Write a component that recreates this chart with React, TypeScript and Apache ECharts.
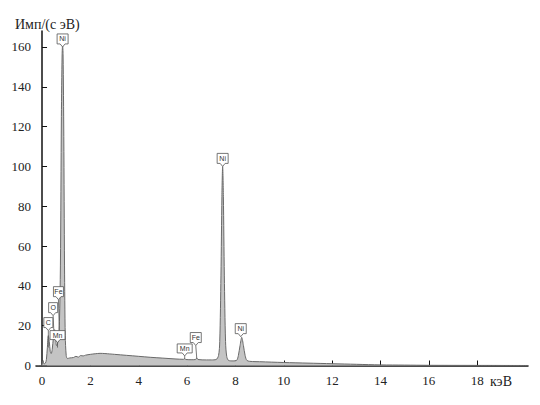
import React, { useEffect, useRef } from "react";
import * as echarts from "echarts";

// Spectrum (energy in keV, counts per s·eV)
const energy = [
  -0.25, -0.05, 0.0, 0.04, 0.08, 0.14, 0.18, 0.22, 0.26, 0.3, 0.34, 0.38, 0.42, 0.47, 0.52, 0.56, 0.6,
  0.64, 0.68, 0.72, 0.76, 0.8, 0.83, 0.85, 0.87, 0.9, 0.93, 0.96, 1.0, 1.05, 1.15, 1.3, 1.4, 1.5, 1.6,
  1.7, 1.8, 2.0, 2.2, 2.4, 2.6, 2.8, 3.0, 3.5, 4.0, 4.5, 5.0, 5.5, 5.85, 5.9, 5.95, 6.2, 6.35, 6.4, 6.45,
  6.8, 7.0, 7.2, 7.3, 7.35, 7.4, 7.44, 7.47, 7.5, 7.54, 7.59, 7.64, 7.72, 7.9, 8.05, 8.12, 8.19, 8.26,
  8.33, 8.4, 8.48, 8.7, 9.0, 9.5, 10, 11, 12, 13, 14, 15, 16, 18, 20.1,
];
const counts = [
  0, 0, 0.5, 2.5, 0.8, 1.2, 3, 9, 15, 12, 7, 6, 8, 14, 18, 14, 10,
  11, 14, 22, 50, 125, 156, 161, 156, 115, 50, 15, 5, 3.5, 3.8, 4, 4.6, 4.2, 5,
  4.8, 5.2, 5.6, 5.9, 6.1, 6.0, 5.8, 5.6, 5.1, 4.6, 4.1, 3.7, 3.3, 3.1, 3.4, 3.0, 2.9, 3.0, 3.8, 3.0,
  2.8, 2.8, 3, 5, 12, 45, 85, 100, 85, 45, 12, 4.5, 2.5, 2.3, 2.6, 5, 10, 14,
  10, 5, 2.5, 2, 1.9, 1.7, 1.5, 1.2, 0.9, 0.6, 0.3, 0.2, 0.1, 0.05, 0,
];

const xTicks = [0, 2, 4, 6, 8, 10, 12, 14, 16, 18];
const yTicks = [0, 20, 40, 60, 80, 100, 120, 140, 160];

// Peak annotations
const peakNames = ["Ni", "Ni", "Ni", "Fe", "Mn", "C", "O", "Fe", "Mn"];
const peakEnergies = [0.85, 7.47, 8.26, 6.4, 5.9, 0.26, 0.5, 0.72, 0.64];
const peakValues = [160, 100, 14, 3.5, 3.3, 9, 14, 16, 9];

export default function App() {
  const ref = useRef<HTMLDivElement>(null);
  useEffect(() => {
    if (!ref.current) return;
    const chart = echarts.init(ref.current, undefined, { renderer: "svg" });
    const serif = "Times New Roman, Liberation Serif, DejaVu Serif, serif";
    chart.setOption({
      animation: false,
      backgroundColor: "#ffffff",
      grid: { left: 36, right: 12, top: 31, bottom: 39.5 },
      xAxis: {
        type: "value",
        min: -0.25,
        max: 20.1,
        splitLine: { show: false },
        axisLine: { lineStyle: { color: "#111", width: 1.5 } },
        axisTick: { inside: true, length: 5, customValues: xTicks, lineStyle: { color: "#111" } },
        axisLabel: { customValues: xTicks, color: "#222", fontFamily: serif, fontSize: 13, margin: 8 },
      },
      yAxis: {
        type: "value",
        min: 0,
        max: 168,
        splitLine: { show: false },
        axisLine: { show: true, lineStyle: { color: "#111", width: 1.5 } },
        axisTick: { show: true, inside: true, length: 5, customValues: yTicks, lineStyle: { color: "#111" } },
        axisLabel: { customValues: yTicks, color: "#222", fontFamily: serif, fontSize: 13, margin: 5 },
      },
      series: [
        {
          type: "line",
          data: energy.map((e, i) => [e, counts[i]]),
          showSymbol: false,
          smooth: 0.3,
          lineStyle: { color: "#6a6a6a", width: 1 },
          areaStyle: { color: "#c4c4c4", opacity: 1 },
        },
      ],
    });

    // callout layout: box bottom offset (px above target), box width, horizontal shift
    const layout = [
      { dy: 0, w: 11, dx: 0 },
      { dy: 0, w: 11, dx: 0 },
      { dy: 1, w: 11, dx: -1 },
      { dy: 13, w: 11, dx: -1 },
      { dy: 3, w: 15, dx: 0 },
      { dy: 17, w: 9, dx: 0 },
      { dy: 22, w: 9, dx: -1 },
      { dy: 34, w: 10, dx: -1 },
      { dy: 5, w: 15, dx: 0 },
    ];
    const graphics: any[] = [];
    peakNames.forEach((name, i) => {
      const p = chart.convertToPixel({ gridIndex: 0 }, [peakEnergies[i], peakValues[i]]) as number[];
      const L = layout[i];
      const cx = p[0] + L.dx;
      const bottom = p[1] - L.dy - 3;
      const h = name === "Mn" ? 9 : 10;
      const top = bottom - h;
      const left = cx - L.w / 2;
      const right = cx + L.w / 2;
      if (L.dy > 0) {
        graphics.push({
          type: "line",
          shape: { x1: cx, y1: bottom + 3, x2: p[0], y2: p[1] },
          style: { stroke: "#555", lineWidth: 0.8 },
          z: 10,
        });
      }
      graphics.push({
        type: "polygon",
        shape: {
          points: [
            [left, top],
            [right, top],
            [right, bottom],
            [cx + 2.5, bottom],
            [cx, bottom + 3],
            [cx - 2.5, bottom],
            [left, bottom],
          ],
        },
        style: { fill: "#ffffff", stroke: "#555", lineWidth: 0.8 },
        z: 11,
      });
      graphics.push({
        type: "text",
        x: cx,
        y: (top + bottom) / 2,
        style: {
          text: name,
          fill: "#333",
          fontSize: 7,
          fontFamily: "Arial, Liberation Sans, sans-serif",
          align: "center",
          verticalAlign: "middle",
        },
        z: 12,
      });
    });
    graphics.push({
      type: "text",
      left: 15,
      top: 17,
      style: { text: "Имп/(с эВ)", fill: "#222", fontSize: 14, fontFamily: serif },
    });
    graphics.push({
      type: "text",
      left: 490,
      top: 374,
      style: { text: "кэВ", fill: "#222", fontSize: 14, fontFamily: serif },
    });
    chart.setOption({ graphic: graphics });
    return () => chart.dispose();
  }, []);
  return <div ref={ref} style={{ width: 540, height: 405, margin: -8 }} />;
}
